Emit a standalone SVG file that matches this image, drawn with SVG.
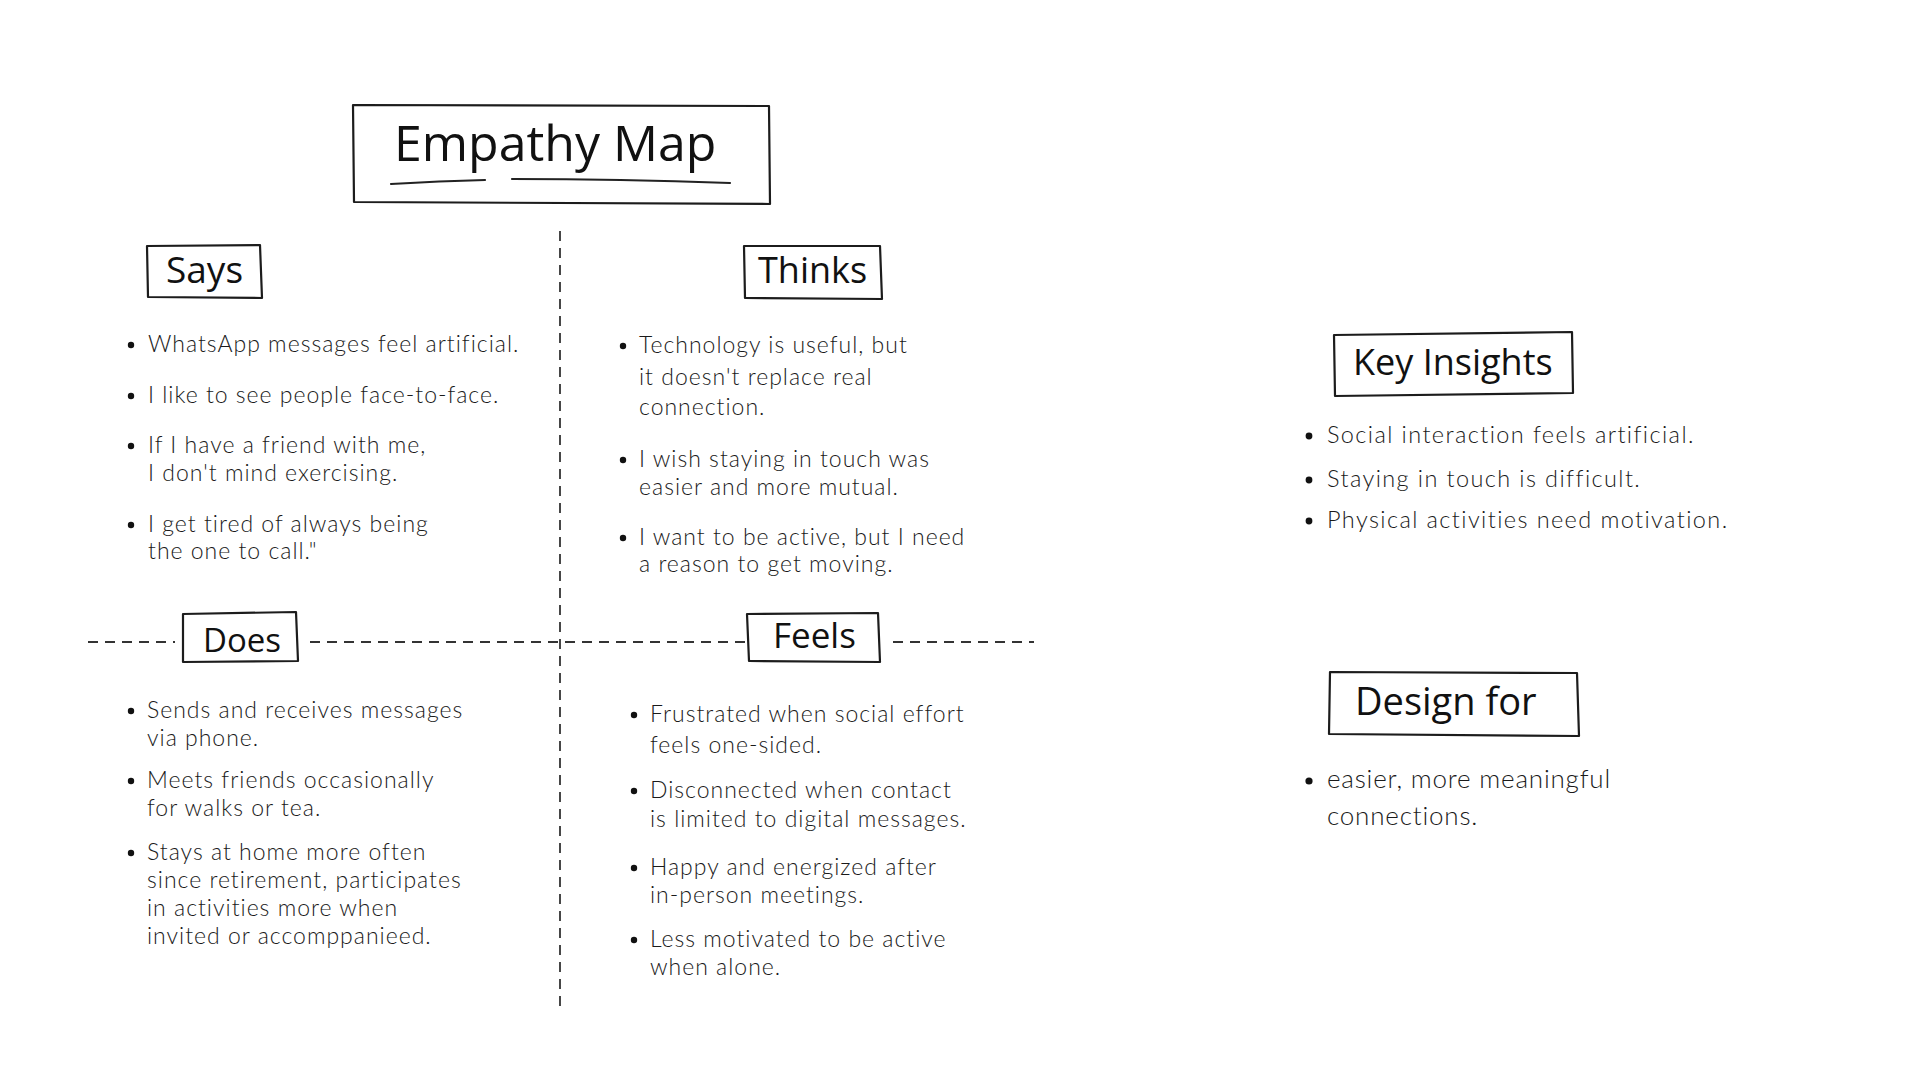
<svg xmlns="http://www.w3.org/2000/svg" width="1920" height="1080" viewBox="0 0 1920 1080">
<style>
.bg{fill:#ffffff}
.box{fill:none;stroke:#1c1c1c;stroke-width:2.2;stroke-linejoin:round;stroke-linecap:round}
.dash{fill:none;stroke:#333;stroke-width:1.8;stroke-dasharray:10 7}
.head{font-family:"Open Sans","Noto Sans",sans-serif;font-weight:400;fill:#111;font-size:36px}
.title{font-family:"Open Sans","Noto Sans",sans-serif;font-weight:400;fill:#111;font-size:50px}
.body{font-family:Lato,"Open Sans",sans-serif;font-weight:300;fill:#1a1a1a;font-size:23px;letter-spacing:1px}
.big{font-size:23.5px;letter-spacing:1.4px}
.dot{fill:#111}
.ul{fill:none;stroke:#222;stroke-width:2.2;stroke-linecap:round}
</style>
<rect class="bg" x="0" y="0" width="1920" height="1080"/>
<g id="connectors">
<path class="dash" d="M560 231 V1006"/>
<path class="dash" d="M88 642 H175"/>
<path class="dash" d="M310 642 H745"/>
<path class="dash" d="M893 642 H1034"/>
</g>
<g id="title">
<path class="box" d="M353 105 L769 106 L770 204 L354 202 Z"/>
<text class="title" x="394" y="161">Empathy Map</text>
<path class="ul" d="M391 184 Q440 181 485 180"/>
<path class="ul" d="M512 179 Q620 179 730 183"/>
</g>
<g id="says">
<path class="box" d="M147 246 L260 245 L262 298 L148 297 Z"/>
<text class="head" x="166" y="283" style="font-size:37px">Says</text>
<circle class="dot" cx="131" cy="345" r="3.2"/>
<text class="body" x="148" y="352">WhatsApp messages feel artificial.</text>
<circle class="dot" cx="131" cy="396" r="3.2"/>
<text class="body" x="148" y="403">I like to see people face-to-face.</text>
<circle class="dot" cx="131" cy="446" r="3.2"/>
<text class="body" x="148" y="453">If I have a friend with me,</text>
<text class="body" x="148" y="481">I don't mind exercising.</text>
<circle class="dot" cx="131" cy="525" r="3.2"/>
<text class="body" x="148" y="532">I get tired of always being</text>
<text class="body" x="148" y="559">the one to call."</text>
</g>
<g id="thinks">
<path class="box" d="M744 246 L880 246 L882 299 L745 298 Z"/>
<text class="head" x="758" y="283">Thinks</text>
<circle class="dot" cx="623" cy="346" r="3.2"/>
<text class="body" x="639" y="353">Technology is useful, but</text>
<text class="body" x="639" y="385">it doesn't replace real</text>
<text class="body" x="639" y="415">connection.</text>
<circle class="dot" cx="623" cy="460" r="3.2"/>
<text class="body" x="639" y="467">I wish staying in touch was</text>
<text class="body" x="639" y="495">easier and more mutual.</text>
<circle class="dot" cx="623" cy="538" r="3.2"/>
<text class="body" x="639" y="545">I want to be active, but I need</text>
<text class="body" x="639" y="572">a reason to get moving.</text>
</g>
<g id="does">
<path class="box" d="M183 614 L296 612 L298 661 L183 662 Z"/>
<text class="head" x="203" y="652" style="font-size:33px">Does</text>
<circle class="dot" cx="131" cy="711" r="3.2"/>
<text class="body" x="147" y="718">Sends and receives messages</text>
<text class="body" x="147" y="746">via phone.</text>
<circle class="dot" cx="131" cy="781" r="3.2"/>
<text class="body" x="147" y="788">Meets friends occasionally</text>
<text class="body" x="147" y="816">for walks or tea.</text>
<circle class="dot" cx="131" cy="853" r="3.2"/>
<text class="body" x="147" y="860">Stays at home more often</text>
<text class="body" x="147" y="888">since retirement, participates</text>
<text class="body" x="147" y="916">in activities more when</text>
<text class="body" x="147" y="944">invited or accomppanieed.</text>
</g>
<g id="feels">
<path class="box" d="M747 614 L878 613 L880 662 L749 661 Z"/>
<text class="head" x="773" y="648" style="font-size:35px">Feels</text>
<circle class="dot" cx="634" cy="715" r="3.2"/>
<text class="body" x="650" y="722">Frustrated when social effort</text>
<text class="body" x="650" y="753">feels one-sided.</text>
<circle class="dot" cx="634" cy="791" r="3.2"/>
<text class="body" x="650" y="798">Disconnected when contact</text>
<text class="body" x="650" y="827">is limited to digital messages.</text>
<circle class="dot" cx="634" cy="868" r="3.2"/>
<text class="body" x="650" y="875">Happy and energized after</text>
<text class="body" x="650" y="903">in-person meetings.</text>
<circle class="dot" cx="634" cy="940" r="3.2"/>
<text class="body" x="650" y="947">Less motivated to be active</text>
<text class="body" x="650" y="975">when alone.</text>
</g>
<g id="key-insights">
<path class="box" d="M1334 335 L1572 332 L1573 393 L1335 396 Z"/>
<text class="head" x="1353" y="375">Key Insights</text>
<circle class="dot" cx="1309" cy="436" r="3.4"/>
<text class="body big" x="1327" y="443">Social interaction feels artificial.</text>
<circle class="dot" cx="1309" cy="480" r="3.4"/>
<text class="body big" x="1327" y="487">Staying in touch is difficult.</text>
<circle class="dot" cx="1309" cy="521" r="3.4"/>
<text class="body big" x="1327" y="528">Physical activities need motivation.</text>
</g>
<g id="design-for">
<path class="box" d="M1330 672 L1577 673 L1579 736 L1329 734 Z"/>
<text class="head" x="1355" y="715" style="font-size:38px">Design for</text>
<circle class="dot" cx="1309" cy="781" r="3.6"/>
<text class="body big" x="1327" y="788" style="font-size:26px;letter-spacing:0.8px">easier, more meaningful</text>
<text class="body big" x="1327" y="825" style="font-size:26px;letter-spacing:0.8px">connections.</text>
</g>
</svg>
